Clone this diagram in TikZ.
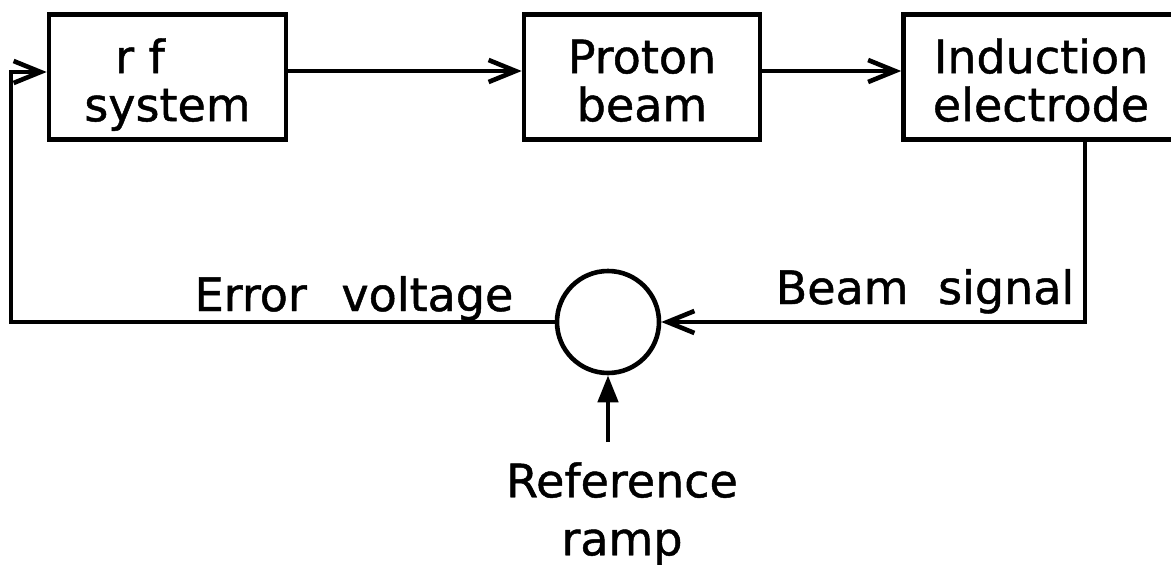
\documentclass[tikz,border=0pt]{standalone}
\usepackage{fontspec}
\setmainfont[FakeBold=1]{DejaVu Sans}
\usetikzlibrary{arrows.meta}
\newcommand\firststrut{\rule{0pt}{50pt}}
\begin{document}
\begin{tikzpicture}[x=1pt,y=-1pt,line width=4.6pt,
  txt/.style={font=\fontsize{46}{48}\selectfont},
  blk/.style={draw,txt,minimum height=125pt,align=center,inner sep=0pt},
  lbl/.style={txt,inner sep=0pt},
  openarrow/.style={-{Straight Barb[length=27pt,width=22pt,line width=4.6pt]}},
  solidarrow/.style={-{Triangle[length=27pt,width=20pt]}}]
\useasboundingbox (0,0) rectangle (1171,565);
\clip (0,0) rectangle (1171,565);
% blocks
\node[blk,minimum width=237pt] (rf) at (167.5,77) {\firststrut r f\hspace*{55pt}\\system\vphantom{y}};
\node[blk,minimum width=236pt] (pb) at (642,77) {\firststrut Proton\\beam\vphantom{y}};
\node[blk,minimum width=275pt] (ind) at (1041,77) {\firststrut Induction\\electrode\vphantom{y}};
% summing junction
\node[draw,circle,minimum size=102pt,inner sep=0pt] (sum) at (608,322) {};
% labels
\node[lbl,anchor=base] (ev) at (354,311) {Error\hspace{20pt} voltage};
\node[lbl,anchor=base] (bsig) at (925,304) {Beam\hspace{15pt} signal};
\node[lbl,anchor=north,align=center,inner xsep=0pt,inner ysep=18pt] (ref) at (622,442) {Reference\\[10pt]ramp};
% connectors
\coordinate (bs) at (1085,322);
\coordinate (fb) at (11,322);
\draw[openarrow] ([yshift=6pt]rf.east) -- ([yshift=6pt]pb.west);
\draw[openarrow] ([yshift=6pt]pb.east) -- ([yshift=6pt]ind.west);
\draw[openarrow] (ind.south -| bs) -- (bs) -- (sum.east);
\draw[openarrow] (sum.west) -- (fb) |- ([yshift=5pt]rf.west);
\draw[solidarrow] (ref.north -| sum.south) -- (sum.south);
\end{tikzpicture}
\end{document}
